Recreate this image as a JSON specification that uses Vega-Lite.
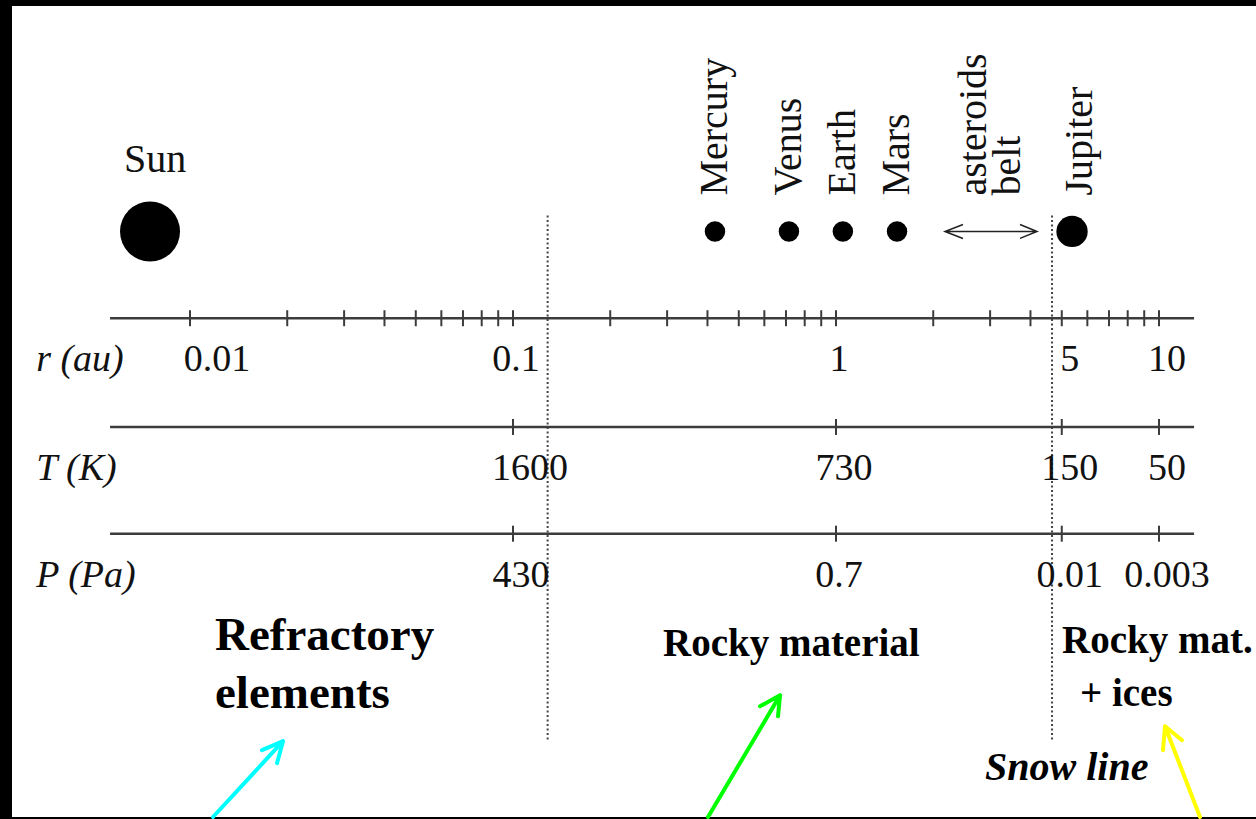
{
  "$schema": "https://vega.github.io/schema/vega-lite/v6.json",
  "width": 1256,
  "height": 819,
  "autosize": {"type": "fit", "contains": "padding"},
  "padding": {"left": 12, "top": 6, "right": 0, "bottom": 0},
  "background": "#000000",
  "config": {"view": {"fill": "#ffffff", "stroke": null}, "font": "Liberation Serif"},
  "datasets": {
    "axes": [
      {"axis": "r", "name": "r (au)", "level": 500},
      {"axis": "T", "name": "T (K)", "level": 391},
      {"axis": "P", "name": "P (Pa)", "level": 284}
    ],
    "ticks": [
      {"axis": "r", "r": 0.01}, {"axis": "r", "r": 0.02}, {"axis": "r", "r": 0.03}, {"axis": "r", "r": 0.04},
      {"axis": "r", "r": 0.05}, {"axis": "r", "r": 0.06}, {"axis": "r", "r": 0.07}, {"axis": "r", "r": 0.08},
      {"axis": "r", "r": 0.09}, {"axis": "r", "r": 0.1}, {"axis": "r", "r": 0.2}, {"axis": "r", "r": 0.3},
      {"axis": "r", "r": 0.4}, {"axis": "r", "r": 0.5}, {"axis": "r", "r": 0.6}, {"axis": "r", "r": 0.7},
      {"axis": "r", "r": 0.8}, {"axis": "r", "r": 0.9}, {"axis": "r", "r": 1}, {"axis": "r", "r": 2},
      {"axis": "r", "r": 3}, {"axis": "r", "r": 4}, {"axis": "r", "r": 5}, {"axis": "r", "r": 6},
      {"axis": "r", "r": 7}, {"axis": "r", "r": 8}, {"axis": "r", "r": 9}, {"axis": "r", "r": 10},
      {"axis": "T", "r": 0.1}, {"axis": "T", "r": 1}, {"axis": "T", "r": 5}, {"axis": "T", "r": 10},
      {"axis": "P", "r": 0.1}, {"axis": "P", "r": 1}, {"axis": "P", "r": 5}, {"axis": "P", "r": 10}
    ],
    "tickLabels": [
      {"axis": "r", "r": 0.01, "label": "0.01"},
      {"axis": "r", "r": 0.1, "label": "0.1"},
      {"axis": "r", "r": 1, "label": "1"},
      {"axis": "r", "r": 5, "label": "5"},
      {"axis": "r", "r": 10, "label": "10"},
      {"axis": "T", "r": 0.1, "label": "1600"},
      {"axis": "T", "r": 1, "label": "730"},
      {"axis": "T", "r": 5, "label": "150"},
      {"axis": "T", "r": 10, "label": "50"},
      {"axis": "P", "r": 0.1, "label": "430"},
      {"axis": "P", "r": 1, "label": "0.7"},
      {"axis": "P", "r": 5, "label": "0.01"},
      {"axis": "P", "r": 10, "label": "0.003"}
    ],
    "bodies": [
      {"name": "Sun", "r": 0.00752, "kind": "star"},
      {"name": "Mercury", "r": 0.422, "kind": "terrestrial"},
      {"name": "Venus", "r": 0.715, "kind": "terrestrial"},
      {"name": "Earth", "r": 1.05, "kind": "terrestrial"},
      {"name": "Mars", "r": 1.545, "kind": "terrestrial"},
      {"name": "Jupiter", "r": 5.38, "kind": "giant"}
    ],
    "boundaries": [
      {"name": "refractory limit", "r": 0.128},
      {"name": "snow line", "r": 4.665}
    ],
    "arrows": [
      {"arrow": "refractory", "seq": 1, "r": 0.011781, "h": 0},
      {"arrow": "refractory", "seq": 2, "r": 0.019409, "h": 76},
      {"arrow": "refractory", "seq": 3, "r": 0.016709, "h": 67},
      {"arrow": "refractory", "seq": 4, "r": 0.019409, "h": 76},
      {"arrow": "refractory", "seq": 5, "r": 0.018596, "h": 54},
      {"arrow": "rocky", "seq": 1, "r": 0.40158, "h": 0},
      {"arrow": "rocky", "seq": 2, "r": 0.67096, "h": 122},
      {"arrow": "rocky", "seq": 3, "r": 0.58168, "h": 111},
      {"arrow": "rocky", "seq": 4, "r": 0.67096, "h": 122},
      {"arrow": "rocky", "seq": 5, "r": 0.66146, "h": 101},
      {"arrow": "icy", "seq": 1, "r": 13.394, "h": 0},
      {"arrow": "icy", "seq": 2, "r": 10.437, "h": 91},
      {"arrow": "icy", "seq": 3, "r": 10.289, "h": 67},
      {"arrow": "icy", "seq": 4, "r": 10.437, "h": 91},
      {"arrow": "icy", "seq": 5, "r": 11.781, "h": 77}
    ],
    "belt": [
      {"seq": 1, "r": 2.4728, "h": 594},
      {"seq": 2, "r": 2.1751, "h": 587},
      {"seq": 3, "r": 2.4728, "h": 580},
      {"seq": 4, "r": 2.1751, "h": 587},
      {"seq": 5, "r": 4.1908, "h": 587},
      {"seq": 6, "r": 3.7125, "h": 594},
      {"seq": 7, "r": 4.1908, "h": 587},
      {"seq": 8, "r": 3.7125, "h": 580}
    ],
    "zones": [
      {"text": "Rocky material", "r": 0.2913, "h": 161},
      {"text": "Rocky mat.", "r": 5.008, "h": 164},
      {"text": "+ ices", "r": 5.694, "h": 111}
    ]
  },
  "layer": [
    {
      "data": {"name": "boundaries"},
      "mark": {"type": "rule", "color": "#444444", "strokeWidth": 2, "strokeDash": [2, 2.5]},
      "encoding": {
        "x": {"field": "r", "type": "quantitative", "scale": {"type": "log", "domain": [0.0028114, 19.966], "nice": false}, "axis": null},
        "y": {"datum": 603, "type": "quantitative", "scale": {"domain": [0, 813], "nice": false, "zero": false}, "axis": null},
        "y2": {"datum": 77}
      }
    },
    {
      "data": {"name": "axes"},
      "mark": {"type": "rule", "color": "#3c3c3c", "strokeWidth": 2.4},
      "encoding": {
        "x": {"datum": 0.005655, "type": "quantitative", "scale": {"type": "log", "domain": [0.0028114, 19.966], "nice": false}, "axis": null},
        "x2": {"datum": 12.84},
        "y": {"field": "level", "type": "quantitative", "scale": {"domain": [0, 813], "nice": false, "zero": false}, "axis": null}
      }
    },
    {
      "data": {"name": "ticks"},
      "transform": [{"lookup": "axis", "from": {"data": {"name": "axes"}, "key": "axis", "fields": ["level"]}}],
      "mark": {"type": "tick", "orient": "vertical", "color": "#3c3c3c", "size": 16, "thickness": 2, "opacity": 1},
      "encoding": {
        "x": {"field": "r", "type": "quantitative", "scale": {"type": "log", "domain": [0.0028114, 19.966], "nice": false}, "axis": null},
        "y": {"field": "level", "type": "quantitative", "scale": {"domain": [0, 813], "nice": false, "zero": false}, "axis": null}
      }
    },
    {
      "data": {"name": "tickLabels"},
      "transform": [
        {"lookup": "axis", "from": {"data": {"name": "axes"}, "key": "axis", "fields": ["level"]}},
        {"filter": "datum.axis === 'r' && datum.r === 0.01"}
      ],
      "mark": {"type": "text", "fontSize": 38, "color": "#111111", "align": "center", "baseline": "alphabetic", "dx": 27, "dy": 53},
      "encoding": {
        "x": {"field": "r", "type": "quantitative", "scale": {"type": "log", "domain": [0.0028114, 19.966], "nice": false}, "axis": null},
        "y": {"field": "level", "type": "quantitative", "scale": {"domain": [0, 813], "nice": false, "zero": false}, "axis": null},
        "text": {"field": "label"}
      }
    },
    {
      "data": {"name": "tickLabels"},
      "transform": [
        {"lookup": "axis", "from": {"data": {"name": "axes"}, "key": "axis", "fields": ["level"]}},
        {"filter": "datum.axis === 'T' && datum.r === 0.1"}
      ],
      "mark": {"type": "text", "fontSize": 38, "color": "#111111", "align": "center", "baseline": "alphabetic", "dx": 17, "dy": 53},
      "encoding": {
        "x": {"field": "r", "type": "quantitative", "scale": {"type": "log", "domain": [0.0028114, 19.966], "nice": false}, "axis": null},
        "y": {"field": "level", "type": "quantitative", "scale": {"domain": [0, 813], "nice": false, "zero": false}, "axis": null},
        "text": {"field": "label"}
      }
    },
    {
      "data": {"name": "tickLabels"},
      "transform": [
        {"lookup": "axis", "from": {"data": {"name": "axes"}, "key": "axis", "fields": ["level"]}},
        {"filter": "(datum.axis === 'r' && (datum.r === 0.1 || datum.r === 1)) || (datum.axis === 'P' && datum.r === 1)"}
      ],
      "mark": {"type": "text", "fontSize": 38, "color": "#111111", "align": "center", "baseline": "alphabetic", "dx": 3, "dy": 53},
      "encoding": {
        "x": {"field": "r", "type": "quantitative", "scale": {"type": "log", "domain": [0.0028114, 19.966], "nice": false}, "axis": null},
        "y": {"field": "level", "type": "quantitative", "scale": {"domain": [0, 813], "nice": false, "zero": false}, "axis": null},
        "text": {"field": "label"}
      }
    },
    {
      "data": {"name": "tickLabels"},
      "transform": [
        {"lookup": "axis", "from": {"data": {"name": "axes"}, "key": "axis", "fields": ["level"]}},
        {"filter": "datum.r === 5 || datum.r === 10 || (datum.axis === 'T' && datum.r === 1) || (datum.axis === 'P' && datum.r === 0.1)"}
      ],
      "mark": {"type": "text", "fontSize": 38, "color": "#111111", "align": "center", "baseline": "alphabetic", "dx": 8, "dy": 53},
      "encoding": {
        "x": {"field": "r", "type": "quantitative", "scale": {"type": "log", "domain": [0.0028114, 19.966], "nice": false}, "axis": null},
        "y": {"field": "level", "type": "quantitative", "scale": {"domain": [0, 813], "nice": false, "zero": false}, "axis": null},
        "text": {"field": "label"}
      }
    },
    {
      "data": {"name": "axes"},
      "mark": {"type": "text", "fontSize": 38, "fontStyle": "italic", "color": "#111111", "align": "left", "baseline": "alphabetic", "dy": 53},
      "encoding": {
        "x": {"datum": 0.00334, "type": "quantitative", "scale": {"type": "log", "domain": [0.0028114, 19.966], "nice": false}, "axis": null},
        "y": {"field": "level", "type": "quantitative", "scale": {"domain": [0, 813], "nice": false, "zero": false}, "axis": null},
        "text": {"field": "name"}
      }
    },
    {
      "data": {"name": "bodies"},
      "mark": {"type": "point", "shape": "circle", "filled": true, "color": "#000000", "opacity": 1},
      "encoding": {
        "x": {"field": "r", "type": "quantitative", "scale": {"type": "log", "domain": [0.0028114, 19.966], "nice": false}, "axis": null},
        "y": {"datum": 587, "type": "quantitative", "scale": {"domain": [0, 813], "nice": false, "zero": false}, "axis": null},
        "size": {"field": "kind", "type": "nominal", "scale": {"type": "ordinal", "domain": ["star", "terrestrial", "giant"], "range": [3600, 420, 980]}, "legend": null}
      }
    },
    {
      "data": {"name": "bodies"},
      "transform": [{"filter": "datum.name !== 'Sun' && datum.name !== 'Jupiter'"}],
      "mark": {"type": "text", "fontSize": 40, "color": "#111111", "angle": 270, "align": "left", "baseline": "middle"},
      "encoding": {
        "x": {"field": "r", "type": "quantitative", "scale": {"type": "log", "domain": [0.0028114, 19.966], "nice": false}, "axis": null},
        "y": {"datum": 623, "type": "quantitative", "scale": {"domain": [0, 813], "nice": false, "zero": false}, "axis": null},
        "text": {"field": "name"}
      }
    },
    {
      "data": {"name": "bodies"},
      "transform": [{"filter": "datum.name === 'Jupiter'"}],
      "mark": {"type": "text", "fontSize": 40, "color": "#111111", "angle": 270, "align": "left", "baseline": "middle", "dy": 8},
      "encoding": {
        "x": {"field": "r", "type": "quantitative", "scale": {"type": "log", "domain": [0.0028114, 19.966], "nice": false}, "axis": null},
        "y": {"datum": 623, "type": "quantitative", "scale": {"domain": [0, 813], "nice": false, "zero": false}, "axis": null},
        "text": {"field": "name"}
      }
    },
    {
      "data": {"name": "bodies"},
      "transform": [{"filter": "datum.name === 'Sun'"}],
      "mark": {"type": "text", "fontSize": 40, "color": "#111111", "align": "center", "baseline": "alphabetic", "dx": 5},
      "encoding": {
        "x": {"field": "r", "type": "quantitative", "scale": {"type": "log", "domain": [0.0028114, 19.966], "nice": false}, "axis": null},
        "y": {"datum": 647, "type": "quantitative", "scale": {"domain": [0, 813], "nice": false, "zero": false}, "axis": null},
        "text": {"field": "name"}
      }
    },
    {
      "data": {"values": [{"label": "asteroids\nbelt", "r": 3.02}]},
      "mark": {"type": "text", "fontSize": 40, "color": "#111111", "angle": 270, "align": "left", "baseline": "middle", "lineBreak": "\n", "lineHeight": 34, "dy": -17},
      "encoding": {
        "x": {"field": "r", "type": "quantitative", "scale": {"type": "log", "domain": [0.0028114, 19.966], "nice": false}, "axis": null},
        "y": {"datum": 623, "type": "quantitative", "scale": {"domain": [0, 813], "nice": false, "zero": false}, "axis": null},
        "text": {"field": "label"}
      }
    },
    {
      "data": {"name": "belt"},
      "mark": {"type": "line", "color": "#222222", "strokeWidth": 1.5, "strokeJoin": "miter"},
      "encoding": {
        "x": {"field": "r", "type": "quantitative", "scale": {"type": "log", "domain": [0.0028114, 19.966], "nice": false}, "axis": null},
        "y": {"field": "h", "type": "quantitative", "scale": {"domain": [0, 813], "nice": false, "zero": false}, "axis": null},
        "order": {"field": "seq"}
      }
    },
    {
      "data": {"name": "arrows"},
      "mark": {"type": "line", "strokeWidth": 4, "strokeCap": "round", "strokeJoin": "round"},
      "encoding": {
        "x": {"field": "r", "type": "quantitative", "scale": {"type": "log", "domain": [0.0028114, 19.966], "nice": false}, "axis": null},
        "y": {"field": "h", "type": "quantitative", "scale": {"domain": [0, 813], "nice": false, "zero": false}, "axis": null},
        "color": {"field": "arrow", "type": "nominal", "scale": {"domain": ["refractory", "rocky", "icy"], "range": ["#00ffff", "#00ff00", "#ffff00"]}, "legend": null},
        "detail": {"field": "arrow"},
        "order": {"field": "seq"}
      }
    },
    {
      "data": {"values": [{"label": "Refractory\nelements", "r": 0.01195, "h": 167}]},
      "mark": {"type": "text", "fontSize": 47, "fontWeight": "bold", "color": "#000000", "align": "left", "baseline": "alphabetic", "lineBreak": "\n", "lineHeight": 58},
      "encoding": {
        "x": {"field": "r", "type": "quantitative", "scale": {"type": "log", "domain": [0.0028114, 19.966], "nice": false}, "axis": null},
        "y": {"field": "h", "type": "quantitative", "scale": {"domain": [0, 813], "nice": false, "zero": false}, "axis": null},
        "text": {"field": "label"}
      }
    },
    {
      "data": {"name": "zones"},
      "mark": {"type": "text", "fontSize": 39, "fontWeight": "bold", "color": "#000000", "align": "left", "baseline": "alphabetic"},
      "encoding": {
        "x": {"field": "r", "type": "quantitative", "scale": {"type": "log", "domain": [0.0028114, 19.966], "nice": false}, "axis": null},
        "y": {"field": "h", "type": "quantitative", "scale": {"domain": [0, 813], "nice": false, "zero": false}, "axis": null},
        "text": {"field": "text"}
      }
    },
    {
      "data": {"values": [{"label": "Snow line", "r": 2.893, "h": 37}]},
      "mark": {"type": "text", "fontSize": 40, "fontWeight": "bold", "fontStyle": "italic", "color": "#000000", "align": "left", "baseline": "alphabetic"},
      "encoding": {
        "x": {"field": "r", "type": "quantitative", "scale": {"type": "log", "domain": [0.0028114, 19.966], "nice": false}, "axis": null},
        "y": {"field": "h", "type": "quantitative", "scale": {"domain": [0, 813], "nice": false, "zero": false}, "axis": null},
        "text": {"field": "label"}
      }
    }
  ]
}
